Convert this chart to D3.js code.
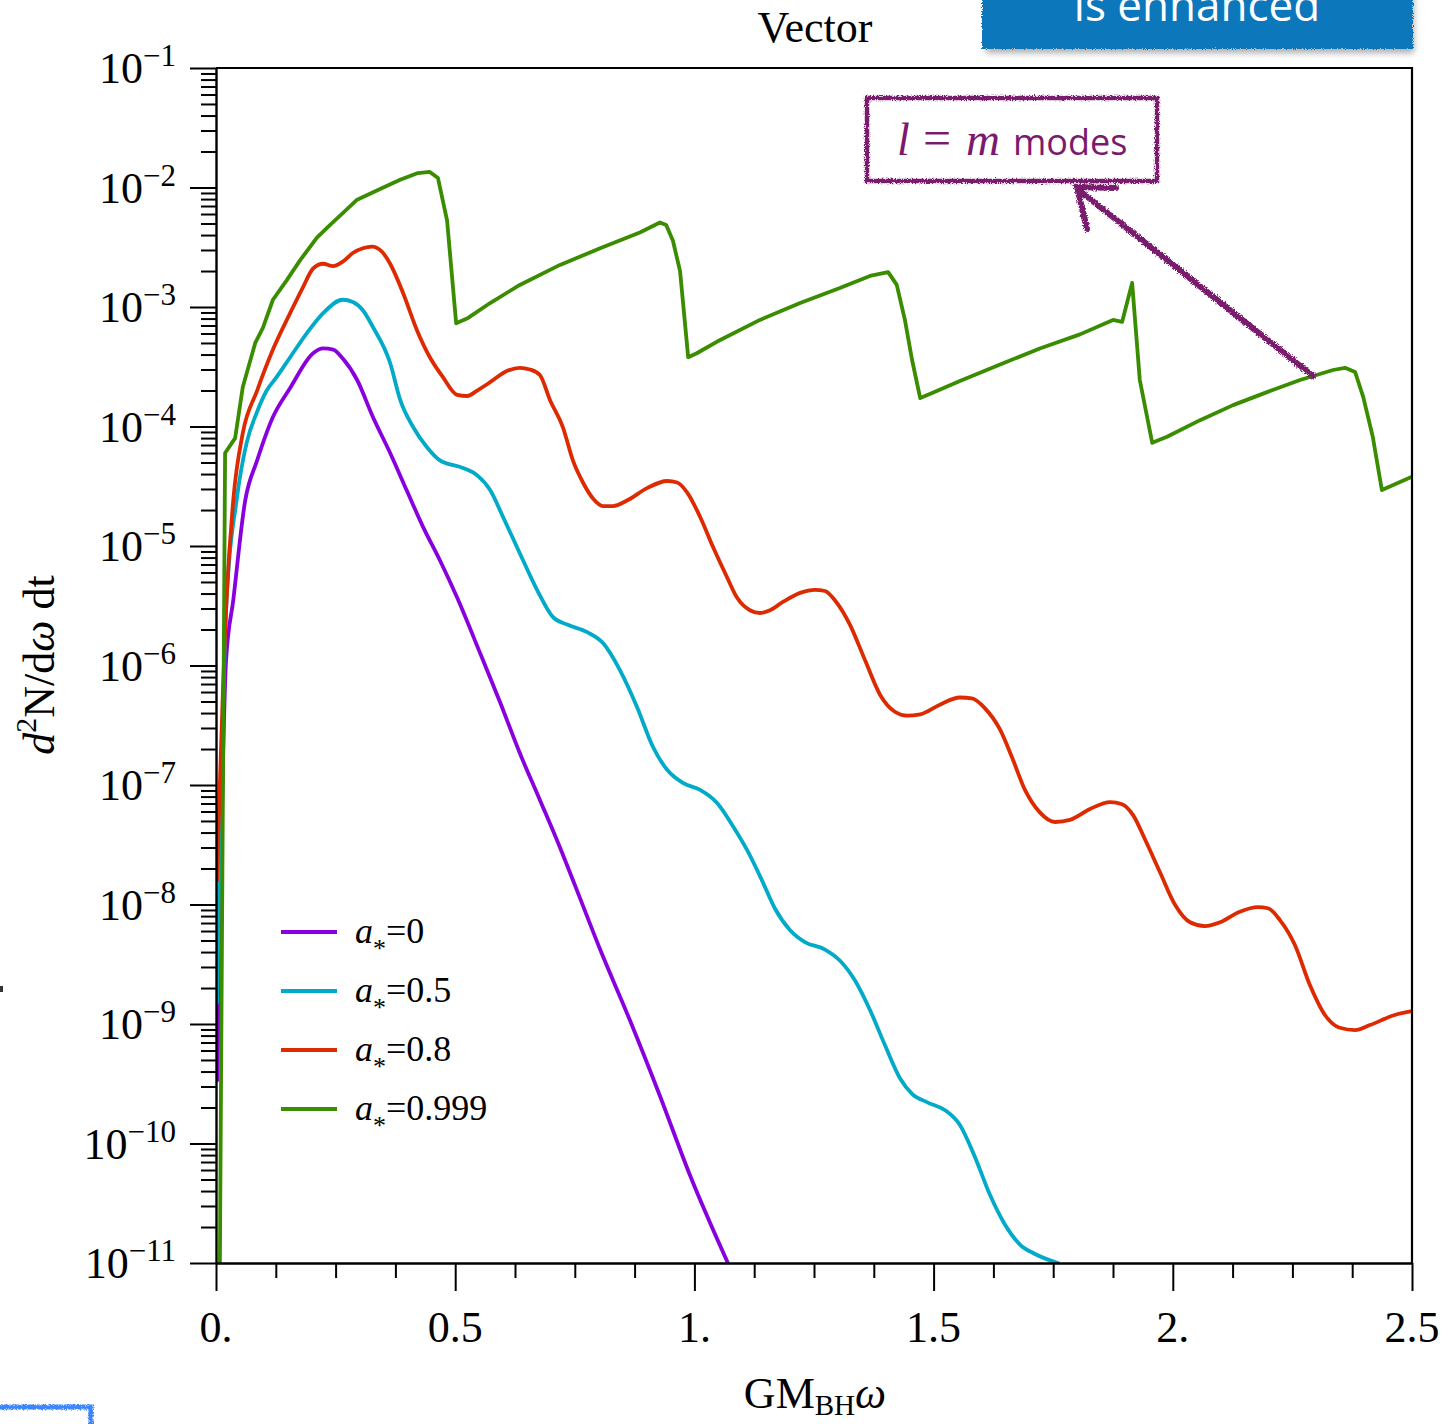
<!DOCTYPE html>
<html>
<head>
<meta charset="utf-8">
<script src="https://cdn.jsdelivr.net/npm/d3@7"></script>
<style>
  html, body { margin: 0; padding: 0; background: #fff; }
  svg { display: block; }
</style>
</head>
<body>
<script>
// Emission spectra d^2N/(dω dt) of a vector field for several black-hole spins
const purpleX = [0.003,0.021,0.036,0.061,0.086,0.119,0.155,0.203,0.224,0.245,0.265,0.295,0.328,0.364,0.399,0.433,0.468,0.504,0.552,0.594,0.635,0.677,0.719,0.750,0.803,0.865,0.928,0.991,1.070];
const purpleY = [3.4e-10,1.1e-6,3.5e-6,2.4e-5,5.2e-5,1.2e-4,2.1e-4,4.1e-4,4.5e-4,4.4e-4,3.7e-4,2.45e-4,1.2e-4,6.0e-5,2.9e-5,1.44e-5,7.6e-6,3.7e-6,1.27e-6,4.9e-7,1.85e-7,7.5e-8,3.0e-8,1.46e-8,4.2e-9,1.08e-9,2.5e-10,5.4e-11,1.0e-11];

const cyanX = [0.002,0.022,0.043,0.064,0.085,0.106,0.127,0.155,0.190,0.224,0.265,0.286,0.307,0.328,0.364,0.385,0.412,0.441,0.468,0.516,0.546,0.573,0.600,0.635,0.671,0.704,0.734,0.776,0.809,0.844,0.880,0.913,0.943,0.976,1.012,1.047,1.081,1.110,1.141,1.168,1.200,1.231,1.273,1.304,1.336,1.367,1.398,1.430,1.455,1.488,1.524,1.555,1.587,1.618,1.649,1.681,1.712,1.760];
const cyanY = [1.5e-9,3.5e-6,2.4e-5,7.3e-5,1.3e-4,2.0e-4,2.6e-4,3.8e-4,6.05e-4,8.9e-4,1.15e-3,1.1e-3,9.4e-4,6.8e-4,3.4e-4,1.67e-4,9.9e-5,6.7e-5,5.2e-5,4.5e-5,3.9e-5,2.94e-5,1.75e-5,8.7e-6,4.3e-6,2.55e-6,2.2e-6,1.9e-6,1.54e-6,9.2e-7,4.5e-7,2.1e-7,1.34e-7,1.04e-7,9.1e-8,7.1e-8,4.5e-8,2.86e-8,1.6e-8,9.3e-9,6.1e-9,4.85e-9,4.2e-9,3.4e-9,2.3e-9,1.31e-9,6.7e-10,3.5e-10,2.6e-10,2.2e-10,1.9e-10,1.43e-10,7.6e-11,3.7e-11,2.1e-11,1.42e-11,1.19e-11,1.0e-11];

const redX = [0.002,0.022,0.036,0.056,0.086,0.119,0.155,0.182,0.203,0.224,0.245,0.265,0.286,0.307,0.326,0.347,0.364,0.391,0.420,0.447,0.474,0.504,0.525,0.546,0.573,0.604,0.635,0.656,0.677,0.698,0.725,0.746,0.767,0.788,0.809,0.830,0.859,0.901,0.943,0.964,0.985,1.012,1.039,1.068,1.089,1.116,1.137,1.158,1.185,1.221,1.252,1.273,1.294,1.325,1.357,1.388,1.419,1.444,1.472,1.513,1.555,1.580,1.607,1.639,1.664,1.691,1.722,1.754,1.785,1.827,1.869,1.894,1.917,1.942,1.973,2.005,2.036,2.067,2.099,2.140,2.178,2.199,2.224,2.255,2.287,2.318,2.349,2.381,2.412,2.464,2.5];
const redY = [1.6e-8,3.5e-6,2.4e-5,8.8e-5,2.0e-4,4.4e-4,8.9e-4,1.47e-3,2.1e-3,2.3e-3,2.2e-3,2.4e-3,2.83e-3,3.1e-3,3.2e-3,2.9e-3,2.3e-3,1.31e-3,6.4e-4,3.8e-4,2.6e-4,1.84e-4,1.8e-4,2.0e-4,2.35e-4,2.86e-4,3.1e-4,3.0e-4,2.7e-4,1.67e-4,9.9e-5,5.2e-5,3.4e-5,2.5e-5,2.16e-5,2.16e-5,2.4e-5,3.05e-5,3.5e-5,3.4e-5,2.8e-5,1.75e-5,9.8e-6,5.5e-6,3.7e-6,2.9e-6,2.75e-6,2.9e-6,3.4e-6,4.05e-6,4.3e-6,4.2e-6,3.5e-6,2.2e-6,1.1e-6,5.7e-7,4.1e-7,3.8e-7,3.9e-7,4.7e-7,5.4e-7,5.3e-7,4.4e-7,2.9e-7,1.7e-7,9.1e-8,5.9e-8,4.9e-8,5.1e-8,6.3e-8,7.2e-8,6.9e-8,5.6e-8,3.5e-8,1.87e-8,9.9e-9,7.1e-9,6.6e-9,7.1e-9,8.7e-9,9.5e-9,9.3e-9,7.4e-9,4.6e-9,2.1e-9,1.19e-9,9.3e-10,8.9e-10,9.8e-10,1.19e-9,1.28e-9];

const greenX = [0.008,0.019,0.040,0.056,0.082,0.098,0.119,0.148,0.176,0.211,0.238,0.265,0.295,0.343,0.385,0.422,0.447,0.464,0.483,0.502,0.527,0.573,0.635,0.719,0.803,0.886,0.928,0.941,0.955,0.970,0.987,1.005,1.054,1.137,1.221,1.304,1.367,1.405,1.423,1.440,1.455,1.472,1.492,1.555,1.639,1.722,1.806,1.875,1.894,1.915,1.931,1.957,1.988,2.057,2.126,2.197,2.266,2.335,2.360,2.381,2.398,2.418,2.437,2.5];
const greenY = [8.7e-12,6.0e-5,8.0e-5,2.14e-4,5.0e-4,6.7e-4,1.15e-3,1.68e-3,2.47e-3,3.8e-3,4.85e-3,6.1e-3,7.9e-3,9.7e-3,1.16e-2,1.32e-2,1.35e-2,1.2e-2,5.3e-3,7.3e-4,8.1e-4,1.08e-3,1.53e-3,2.25e-3,3.1e-3,4.2e-3,5.1e-3,4.85e-3,3.6e-3,2.0e-3,3.8e-4,4.1e-4,5.3e-4,7.8e-4,1.08e-3,1.44e-3,1.82e-3,1.96e-3,1.53e-3,7.8e-4,3.6e-4,1.73e-4,1.87e-4,2.4e-4,3.3e-4,4.5e-4,5.9e-4,7.8e-4,7.5e-4,1.59e-3,2.45e-4,7.3e-5,8.2e-5,1.13e-4,1.51e-4,1.94e-4,2.45e-4,2.97e-4,3.1e-4,2.86e-4,1.77e-4,8.2e-5,2.94e-5,3.8e-5];

const spinLabels = ["0", "0.5", "0.8", "0.999"];
const xTickValues = [0, 0.5, 1, 1.5, 2, 2.5];
const xTickLabels = ["0.", "0.5", "1.", "1.5", "2.", "2.5"];
const yExponents = [-1, -2, -3, -4, -5, -6, -7, -8, -9, -10, -11];

const series = [
  { label: spinLabels[0], xs: purpleX, ys: purpleY, color: "#8800dd", curve: d3.curveMonotoneX },
  { label: spinLabels[1], xs: cyanX,   ys: cyanY,   color: "#00aac8", curve: d3.curveMonotoneX },
  { label: spinLabels[2], xs: redX,    ys: redY,    color: "#dd2a00", curve: d3.curveMonotoneX },
  { label: spinLabels[3], xs: greenX,  ys: greenY,  color: "#3a8c00", curve: d3.curveLinear }
];

const W = 1449, H = 1424;
const M = { left: 216, right: 1412, top: 68, bottom: 1263 };
const serif = "'Liberation Serif', 'Times New Roman', serif";
const sans = "'Open Sans', 'DejaVu Sans', sans-serif";

const svg = d3.select("body").append("svg")
  .attr("width", W).attr("height", H)
  .attr("viewBox", `0 0 ${W} ${H}`);

svg.append("rect").attr("width", W).attr("height", H).attr("fill", "#fff");

const defs = svg.append("defs");
defs.append("clipPath").attr("id", "plotClip")
  .append("rect").attr("x", M.left).attr("y", M.top)
  .attr("width", M.right - M.left).attr("height", M.bottom - M.top);

// hand-drawn jitter for the annotation strokes
const rough = defs.append("filter").attr("id", "rough")
  .attr("x", "-10%").attr("y", "-10%").attr("width", "120%").attr("height", "120%");
rough.append("feTurbulence").attr("type", "fractalNoise").attr("baseFrequency", 0.9)
  .attr("numOctaves", 2).attr("seed", 4).attr("result", "noise");
rough.append("feDisplacementMap").attr("in", "SourceGraphic").attr("in2", "noise")
  .attr("scale", 5).attr("xChannelSelector", "R").attr("yChannelSelector", "G");

const blur = defs.append("filter").attr("id", "shadowBlur")
  .attr("x", "-10%").attr("y", "-50%").attr("width", "120%").attr("height", "200%");
blur.append("feGaussianBlur").attr("stdDeviation", 3);

const x = d3.scaleLinear().domain([0, 2.5]).range([M.left, M.right]);
const y = d3.scaleLog().domain([1e-11, 1e-1]).range([M.bottom, M.top]);

// --- curves
const gLines = svg.append("g").attr("clip-path", "url(#plotClip)");
series.forEach(s => {
  const pts = d3.zip(s.xs, s.ys);
  const line = d3.line().x(d => x(d[0])).y(d => y(d[1])).curve(s.curve);
  gLines.append("path").datum(pts)
    .attr("d", line)
    .attr("fill", "none")
    .attr("stroke", s.color)
    .attr("stroke-width", 3.8)
    .attr("stroke-linejoin", "round")
    .attr("stroke-linecap", "round");
});

// --- frame (top and right)
svg.append("path")
  .attr("d", `M${M.left},${M.top}H${M.right}V${M.bottom}`)
  .attr("fill", "none").attr("stroke", "#000").attr("stroke-width", 2.2);

// --- y axis
const decades = yExponents.map(e => Math.pow(10, e));
const yMinor = [];
yExponents.slice(1).forEach(e => {
  for (let k = 2; k <= 9; k++) yMinor.push(k * Math.pow(10, e));
});

const gyMinor = svg.append("g").attr("transform", `translate(${M.left},0)`)
  .call(d3.axisLeft(y).tickValues(yMinor).tickSize(15).tickSizeOuter(0).tickFormat(""));
gyMinor.select(".domain").remove();
const gyMajor = svg.append("g").attr("transform", `translate(${M.left},0)`)
  .call(d3.axisLeft(y).tickValues(decades).tickSize(26).tickSizeOuter(0).tickFormat(""));
[gyMinor, gyMajor].forEach(g => {
  g.selectAll("line").attr("stroke", "#000").attr("stroke-width", 2);
  g.selectAll(".domain").attr("stroke", "#000").attr("stroke-width", 2.4);
});

const yLabels = svg.append("g").attr("font-family", serif).attr("fill", "#000");
yExponents.forEach((e, i) => {
  const t = yLabels.append("text")
    .attr("x", 176).attr("y", y(decades[i]) + 15)
    .attr("text-anchor", "end");
  t.append("tspan").attr("font-size", 44).text("10");
  t.append("tspan").attr("font-size", 31).attr("dy", -17).text("\u2212" + Math.abs(e));
});

// --- x axis
const xMinor = d3.range(0, 2.5001, 0.125).filter(v => Math.abs(v * 2 - Math.round(v * 2)) > 1e-6);
const gxMinor = svg.append("g").attr("transform", `translate(0,${M.bottom})`)
  .call(d3.axisBottom(x).tickValues(xMinor).tickSize(15).tickSizeOuter(0).tickFormat(""));
gxMinor.select(".domain").remove();
const gxMajor = svg.append("g").attr("transform", `translate(0,${M.bottom})`)
  .call(d3.axisBottom(x).tickValues(xTickValues).tickSize(28).tickSizeOuter(0).tickFormat(""));
[gxMinor, gxMajor].forEach(g => {
  g.selectAll("line").attr("stroke", "#000").attr("stroke-width", 2);
  g.selectAll(".domain").attr("stroke", "#000").attr("stroke-width", 2.4);
});

svg.append("g").attr("font-family", serif).attr("font-size", 44)
  .selectAll("text").data(xTickValues).join("text")
  .attr("x", d => x(d)).attr("y", 1342)
  .attr("text-anchor", "middle")
  .text((d, i) => xTickLabels[i]);

// --- axis titles
const xTitle = svg.append("text").attr("font-family", serif).attr("font-size", 44)
  .attr("x", 815).attr("y", 1408).attr("text-anchor", "middle");
xTitle.append("tspan").text("GM");
xTitle.append("tspan").attr("font-size", 29).attr("dy", 7).text("BH");
xTitle.append("tspan").attr("dy", -7).attr("font-style", "italic").text("\u03c9");

const yTitle = svg.append("text").attr("font-family", serif).attr("font-size", 44)
  .attr("transform", "translate(54,665) rotate(-90)").attr("text-anchor", "middle");
yTitle.append("tspan").attr("font-style", "italic").text("d");
yTitle.append("tspan").attr("font-size", 30).attr("dy", -18).text("2");
yTitle.append("tspan").attr("dy", 18).text("N/d");
yTitle.append("tspan").attr("font-style", "italic").text("\u03c9");
yTitle.append("tspan").text(" dt");

svg.append("text").attr("font-family", serif).attr("font-size", 44)
  .attr("x", 815).attr("y", 42).attr("text-anchor", "middle").text("Vector");

// --- legend
const legend = svg.append("g").attr("font-family", serif);
series.forEach((s, i) => {
  const ly = 932 + i * 59;
  legend.append("line").attr("x1", 281).attr("x2", 337).attr("y1", ly).attr("y2", ly)
    .attr("stroke", s.color).attr("stroke-width", 3.8);
  const t = legend.append("text").attr("x", 355).attr("y", ly + 11).attr("font-size", 36);
  t.append("tspan").attr("font-style", "italic").text("a");
  t.append("tspan").attr("font-size", 26).attr("dy", 14).text("*");
  t.append("tspan").attr("dy", -14).text("=" + s.label);
});

// --- "is enhanced" banner at the top right
svg.append("rect").attr("x", 986).attr("y", -10).attr("width", 428).attr("height", 63)
  .attr("fill", "#9a9a9a").attr("opacity", 0.8).attr("filter", "url(#shadowBlur)");
svg.append("rect").attr("x", 982).attr("y", -10).attr("width", 431).attr("height", 59)
  .attr("fill", "#0a77bc").attr("filter", "url(#rough)");
svg.append("text").attr("x", 1197).attr("y", 21).attr("text-anchor", "middle")
  .attr("font-family", sans).attr("font-size", 44).attr("fill", "#fff").text("is enhanced");

// --- "l = m modes" callout
const purple = "#7a1a6e";
svg.append("rect").attr("x", 867).attr("y", 98).attr("width", 290).attr("height", 83)
  .attr("fill", "none").attr("stroke", purple).attr("stroke-width", 4.5).attr("filter", "url(#rough)");
const note = svg.append("text").attr("y", 155).attr("fill", purple);
note.append("tspan").attr("x", 897).attr("font-family", serif).attr("font-style", "italic").attr("font-size", 46).text("l");
note.append("tspan").attr("x", 923).attr("font-family", serif).attr("font-size", 50).text("=");
note.append("tspan").attr("x", 966).attr("font-family", serif).attr("font-style", "italic").attr("font-size", 47).text("m");
note.append("tspan").attr("x", 1013).attr("font-family", sans).attr("font-size", 36).text("modes");

const arrow = svg.append("g").attr("stroke", purple).attr("fill", "none")
  .attr("stroke-width", 6).attr("stroke-linecap", "round").attr("filter", "url(#rough)");
arrow.append("path").attr("d", "M1313,376L1080,191");
arrow.append("path").attr("d", "M1116,188L1077,187L1087,229");

// --- fragment of a neighbouring box at the lower left
svg.append("path").attr("d", "M-5,1407H91V1430")
  .attr("fill", "none").attr("stroke", "#3a86ff").attr("stroke-width", 5).attr("filter", "url(#rough)");
svg.append("rect").attr("x", 0).attr("y", 986).attr("width", 3).attr("height", 6).attr("fill", "#333");
</script>
</body>
</html>
